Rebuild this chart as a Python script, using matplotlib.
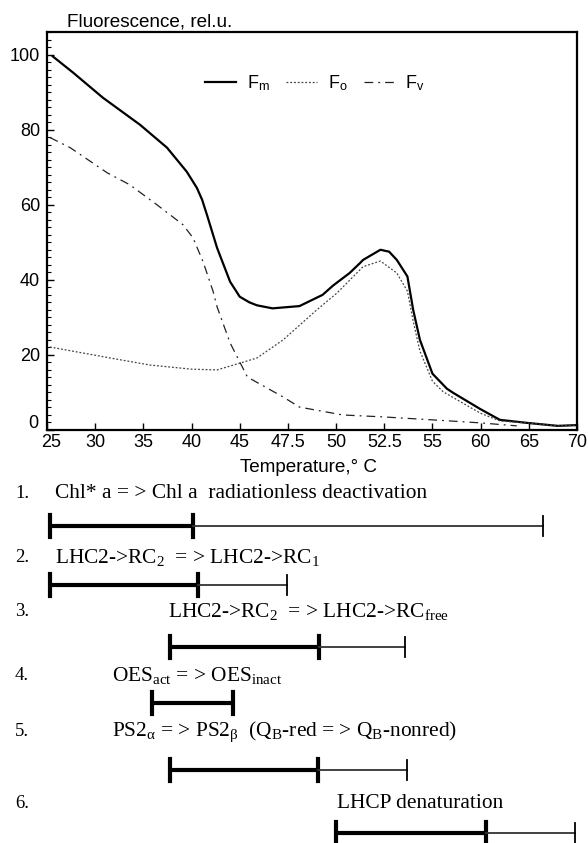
import numpy as np
import matplotlib
matplotlib.use('Agg')
import matplotlib.pyplot as plt
from matplotlib.ticker import MultipleLocator
from matplotlib.transforms import ScaledTranslation

plt.rcParams['font.family'] = ['Liberation Sans', 'DejaVu Sans']
plt.rcParams['mathtext.fontset'] = 'custom'
plt.rcParams['mathtext.rm'] = 'Liberation Serif'
plt.rcParams['mathtext.it'] = 'Liberation Serif:italic'
plt.rcParams['mathtext.sf'] = 'Liberation Sans'

# tick labels of the temperature axis (equally spaced on the original plot)
temp_ticks = [25, 30, 35, 40, 45, 47.5, 50, 52.5, 55, 60, 65, 70]

# Fm
fm_t = [25.6, 27.7, 30.8, 34.65, 37.45, 39.5, 40.55, 41.1, 41.6, 42.65, 43.7, 44.0,
        45.0, 45.5, 45.9, 46.7, 48.1, 49.3, 49.85, 50.7, 51.25, 51.4, 52.3, 52.75,
        53.15, 53.7, 54.0, 54.35, 55.0, 56.5, 57.15, 59.95, 62.0, 64.8, 68.0, 70.0]
fm_v = [99.5, 95.2, 88.5, 81.3, 75.2, 68.8, 64.5, 61.3, 57.3, 48.5, 41.5, 39.5,
        35.5, 34.0, 33.2, 32.4, 33.0, 36.0, 38.5, 41.8, 44.5, 45.3, 48.0, 47.5,
        45.3, 40.9, 32.0, 24.0, 15.0, 11.0, 9.9, 5.6, 2.7, 1.9, 1.1, 1.3]
# Fo
fo_t = [25.3, 32.6, 35.7, 40.0, 42.65, 45.2, 45.9, 47.25, 49.0, 50.05, 51.4, 52.3,
        53.15, 53.7, 54.0, 54.35, 55.0, 56.1, 59.95, 62.0, 64.8, 68.0, 70.0]
fo_v = [22.1, 18.7, 17.3, 16.2, 16.0, 18.1, 19.2, 24.0, 32.0, 36.5, 43.5, 45.0,
        41.8, 37.0, 29.0, 21.0, 13.0, 10.2, 4.5, 2.4, 1.9, 1.1, 1.3]
# Fv
fv_t = [25.3, 27.4, 31.25, 33.6, 36.4, 39.1, 40.15, 41.2, 42.25, 42.65, 44.0, 45.4,
        47.25, 48.1, 50.35, 52.4, 55.0, 59.95, 63.75]
fv_v = [77.9, 75.2, 68.5, 65.3, 60.0, 54.7, 51.2, 44.8, 36.8, 32.8, 23.2, 14.1,
        8.8, 6.1, 4.0, 3.5, 2.7, 1.9, 1.1]

# processes: label, (start, change, end) in deg C
proc_labels = [
    r'Chl* a = > Chl a  radiationless deactivation',
    r'LHC2->RC$_{2}$  = > LHC2->RC$_{1}$',
    r'LHC2->RC$_{2}$  = > LHC2->RC$_{\mathrm{free}}$',
    r'OES$_{\mathrm{act}}$ = > OES$_{\mathrm{inact}}$',
    r'PS2$_{\mathrm{\alpha}}$ = > PS2$_{\mathrm{\beta}}$  (Q$_{\mathrm{B}}$-red = > Q$_{\mathrm{B}}$-nonred)',
    r'LHCP denaturation',
]
proc_ranges = [
    (25.3, 40.2, 66.45),
    (25.3, 40.7, 47.45),
    (37.8, 49.1, 53.6),
    (35.9, 44.3, None),
    (37.8, 49.05, 53.7),
    (50.0, 60.55, 69.8),
]

W, H = 588, 843
idx = np.arange(len(temp_ticks))


def fwd(t):
    return np.interp(t, temp_ticks, idx)


def inv(i):
    return np.interp(i, idx, temp_ticks)


fig = plt.figure(figsize=(W / 100, H / 100), dpi=100)
ax = fig.add_axes([47 / W, 1 - 430 / H, 530 / W, 398 / H])
ax.set_xscale('function', functions=(fwd, inv))

ax.plot(fm_t, fm_v, color='black', lw=1.6, label=r'F$_{\mathsf{m}}$')
ax.plot(fo_t, fo_v, color='#444444', lw=0.9, ls=(0, (1.5, 1.5)), label=r'F$_{\mathsf{o}}$')
ax.plot(fv_t, fv_v, color='#222222', lw=0.9, ls=(0, (7, 4, 1.5, 4)), label=r'F$_{\mathsf{v}}$')

ax.set_xlim(25, 70)
ax.set_ylim(0, 106)
ax.set_xticks(temp_ticks)
ax.set_xticklabels([('%g' % t) for t in temp_ticks])
ax.set_yticks([0, 20, 40, 60, 80, 100])
ax.yaxis.set_minor_locator(MultipleLocator(2))
ax.tick_params(direction='in', labelsize=13, length=5, width=1)
ax.tick_params(which='minor', direction='in', length=3, width=0.8)
ax.tick_params(axis='x', pad=3)
ax.tick_params(axis='y', pad=5)
for s in ax.spines.values():
    s.set_linewidth(1.6)

# the "0" on the y axis sits a bit higher, the "25" a bit to the right
lab0 = ax.get_yticklabels()[0]
lab0.set_transform(lab0.get_transform() + ScaledTranslation(-2 / 100, 8 / 100, fig.dpi_scale_trans))
lab25 = ax.get_xticklabels()[0]
lab25.set_transform(lab25.get_transform() + ScaledTranslation(4 / 100, 0, fig.dpi_scale_trans))

ax.legend(loc='center', bbox_to_anchor=((315 - 47) / 530, (430 - 83) / 398),
          ncol=3, frameon=False, fontsize=13, handlelength=1.7,
          handletextpad=0.6, columnspacing=0.9)

fig.text(67 / W, 1 - 22 / H, 'Fluorescence, rel.u.', fontsize=13.6, va='center', ha='left')
fig.text(308 / W, 1 - 468 / H, 'Temperature,° C', fontsize=13.6, va='center', ha='center')

# lower panel: intervals of processes on the same temperature scale
bx = fig.add_axes([47 / W, 0, 530 / W, 1 - 480 / H], sharex=ax)
bx.set_ylim(H, 480)
bx.axis('off')

text_rows = [493, 557, 612, 675, 732, 803]
bar_rows = [526, 585, 647, 703, 770, 833]
text_x = [55, 55, 168, 112, 112, 337]

serif = ['Liberation Serif', 'DejaVu Serif']
for i, (lab, rng) in enumerate(zip(proc_labels, proc_ranges)):
    fig.text(15 / W, 1 - text_rows[i] / H, '%d.' % (i + 1), fontsize=13.5,
             family=serif, va='center', ha='left')
    fig.text(text_x[i] / W, 1 - text_rows[i] / H, lab, fontsize=15.4,
             family=serif, va='center', ha='left')
    y = bar_rows[i]
    t0, t1, t2 = rng
    bx.plot([t0, t1], [y, y], color='black', lw=3, solid_capstyle='butt', clip_on=False)
    bx.plot([t0, t0], [y - 11, y + 11], color='black', lw=3, clip_on=False)
    bx.plot([t1, t1], [y - 11, y + 11], color='black', lw=3, clip_on=False)
    if t2 is not None:
        bx.plot([t1, t2], [y, y], color='#333333', lw=1.3, clip_on=False)
        bx.plot([t2, t2], [y - 10, y + 10], color='black', lw=1.3, clip_on=False)

fig.savefig('out.png', dpi=100)
